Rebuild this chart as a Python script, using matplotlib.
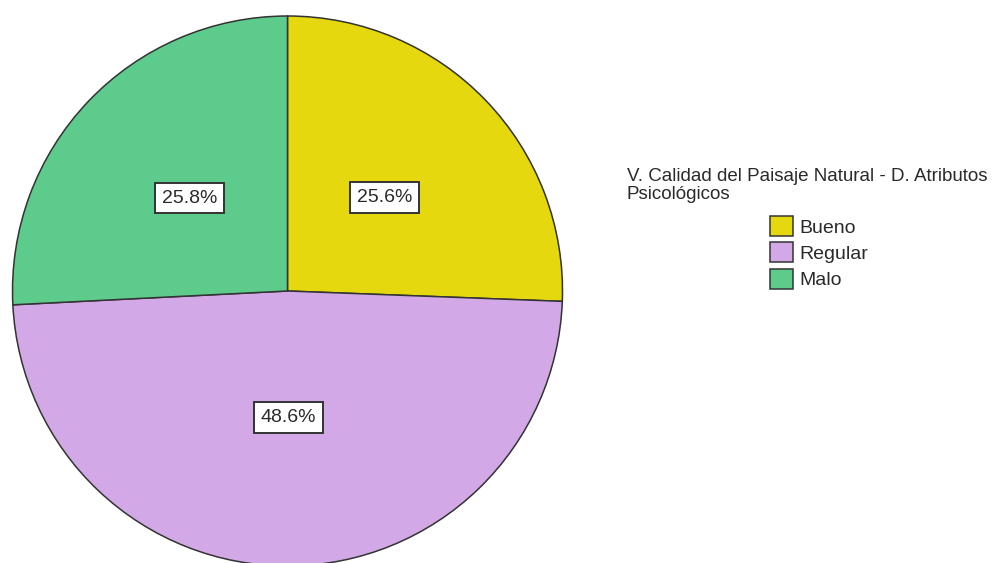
import numpy as np
import matplotlib.pyplot as plt
from matplotlib.patches import Patch

plt.rcParams['font.family'] = ['Liberation Sans', 'DejaVu Sans']

# data
labels = ['Bueno', 'Regular', 'Malo']
values = [25.6, 48.6, 25.8]
colors = ['#E6D80F', '#D2A8E6', '#5CCB8B']
label_dist = [0.49, 0.46, 0.49]
title = 'V. Calidad del Paisaje Natural - D. Atributos\nPsicológicos'

W, H = 1007, 563
fig = plt.figure(figsize=(W / 100, H / 100), dpi=100)
ax = fig.add_axes([0, 0, 1, 1])

cx, cy, r = 287.5, H - 291, 275
wedges, texts, autotexts = ax.pie(
    values, colors=colors, startangle=90, counterclock=False,
    center=(cx, cy), radius=r, frame=True,
    autopct='%1.1f%%', pctdistance=0.48,
    wedgeprops=dict(edgecolor='#333333', linewidth=1.1),
    textprops=dict(fontsize=14, color='#2a2a2a'))
ax.set_xlim(0, W)
ax.set_ylim(0, H)
ax.set_aspect('equal')
ax.axis('off')

# label positions along each wedge's middle angle
for w, t, d in zip(wedges, autotexts, label_dist):
    ang = np.deg2rad((w.theta1 + w.theta2) / 2)
    t.set_position((cx + d * r * np.cos(ang), cy + d * r * np.sin(ang)))
    t.set_bbox(dict(boxstyle='square,pad=0.35', facecolor='white',
                    edgecolor='#333333', linewidth=1.4))

fig.text(627 / W, 1 - 168 / H, title, fontsize=13.5, color='#2a2a2a',
         va='top', ha='left', linespacing=1.05)

handles = [Patch(facecolor=c, edgecolor='#333333', linewidth=1.1) for c in colors]
ax.legend(handles, labels, loc='upper left',
          bbox_to_anchor=(770 / W, 1 - 216 / H), bbox_transform=fig.transFigure,
          frameon=False, fontsize=14, handlelength=1.2, handleheight=1.2,
          handletextpad=0.3, labelspacing=0.3, borderpad=0.0, borderaxespad=0.0,
          labelcolor='#2a2a2a')

fig.savefig('out.png', dpi=100)
